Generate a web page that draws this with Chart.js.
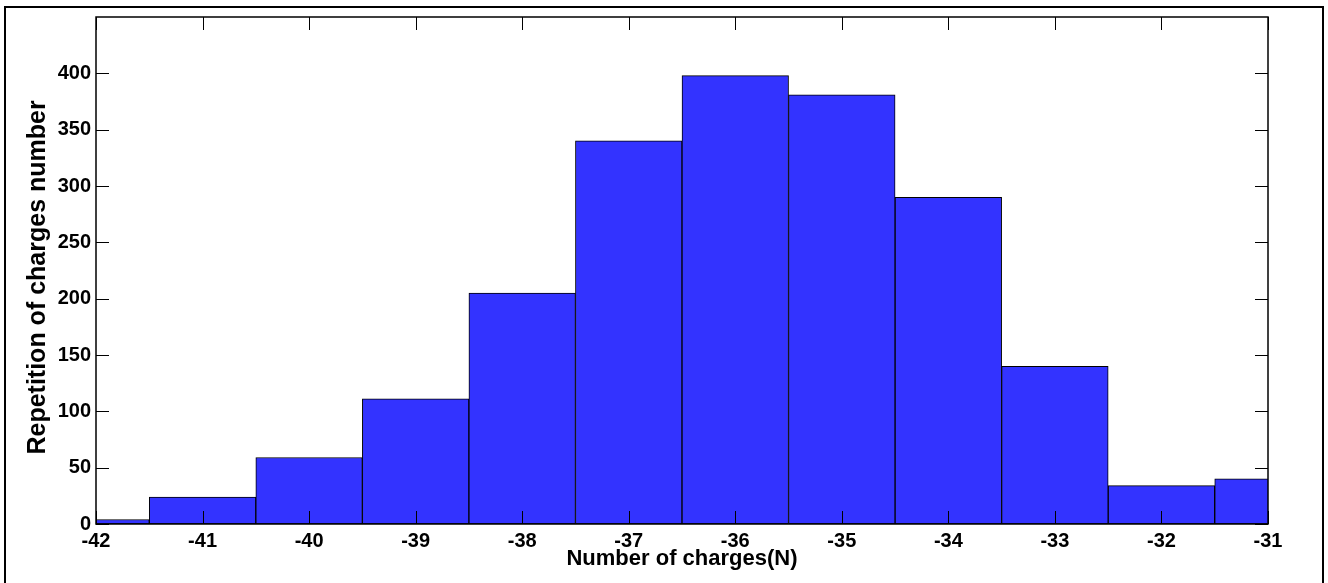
<!DOCTYPE html>
<html>
<head>
<meta charset="utf-8">
<script src="https://cdn.jsdelivr.net/npm/chart.js@4/dist/chart.umd.min.js"></script>
<style>
  html, body { margin: 0; padding: 0; background: #fff; }
  canvas { display: block; }
</style>
</head>
<body>
<canvas id="histChart" width="1328" height="583"></canvas>
<script>
// bin centres (N) and how many times each charge number came up
var binCenters = [-42, -41, -40, -39, -38, -37, -36, -35, -34, -33, -32, -31];
var counts = [4, 24, 59, 111, 205, 340, 398, 381, 290, 140, 34, 40];
var yTicks = [0, 50, 100, 150, 200, 250, 300, 350, 400];

var fontFamily = "'Liberation Sans', Arial, Helvetica, sans-serif";

// figure frame, axes box and inward tick marks, matlab style
var boxPlugin = {
    id: 'boxPlugin',
    beforeDraw: function(chart) {
        var ctx = chart.ctx;
        ctx.save();
        ctx.strokeStyle = '#000';
        ctx.lineWidth = 2;
        ctx.strokeRect(5, 7, 1318, 590);
        ctx.restore();
    },
    afterDatasetsDraw: function(chart) {
        var ctx = chart.ctx;
        var area = chart.chartArea;
        var xs = chart.scales.x;
        var ys = chart.scales.y;
        var len = 13;
        ctx.save();
        ctx.strokeStyle = '#000';
        ctx.lineWidth = 1;
        ctx.beginPath();
        binCenters.forEach(function(v) {
            var px = Math.round(xs.getPixelForValue(v)) + 0.5;
            ctx.moveTo(px, area.top);
            ctx.lineTo(px, area.top + len);
            ctx.moveTo(px, area.bottom);
            ctx.lineTo(px, area.bottom - len);
        });
        yTicks.forEach(function(v) {
            var py = Math.round(ys.getPixelForValue(v)) + 0.5;
            ctx.moveTo(area.left, py);
            ctx.lineTo(area.left + len, py);
            ctx.moveTo(area.right, py);
            ctx.lineTo(area.right - len, py);
        });
        ctx.stroke();
        ctx.lineWidth = 1.5;
        ctx.strokeRect(area.left, area.top, area.right - area.left, area.bottom - area.top);
        ctx.restore();
    }
};

var ctx = document.getElementById('histChart').getContext('2d');
var histChart = new Chart(ctx, {
    type: 'bar',
    data: {
        datasets: [{
            data: binCenters.map(function(x, i) { return { x: x, y: counts[i] }; }),
            backgroundColor: '#3333ff',
            borderColor: '#000',
            borderWidth: 1,
            borderSkipped: false,
            barPercentage: 1,
            categoryPercentage: 1,
            clip: 0
        }]
    },
    options: {
        responsive: false,
        animation: false,
        layout: { padding: { left: 0, top: 15, right: 60, bottom: 0 } },
        plugins: {
            legend: { display: false },
            tooltip: { enabled: false }
        },
        scales: {
            x: {
                type: 'linear',
                min: -42,
                max: -31,
                offset: false,
                grid: { display: false, drawTicks: false },
                border: { display: false },
                ticks: {
                    stepSize: 1,
                    padding: 5,
                    maxRotation: 0,
                    color: '#000',
                    font: { family: fontFamily, size: 20, weight: 'bold' }
                },
                title: {
                    display: true,
                    text: 'Number of charges(N)',
                    color: '#000',
                    padding: { top: 0, bottom: 11 },
                    font: { family: fontFamily, size: 22, weight: 'bold' }
                },
                afterFit: function(scale) { scale.height = 59; }
            },
            y: {
                min: 0,
                max: 450,
                grid: { display: false, drawTicks: false },
                border: { display: false },
                ticks: {
                    stepSize: 50,
                    padding: 5,
                    color: '#000',
                    font: { family: fontFamily, size: 20, weight: 'bold' },
                    callback: function(v) { return v > 400 ? '' : v; }
                },
                title: {
                    display: true,
                    text: 'Repetition of charges number  ',
                    color: '#000',
                    padding: { top: 23, bottom: 0 },
                    font: { family: fontFamily, size: 25, weight: 'bold' }
                },
                afterFit: function(scale) { scale.width = 96; }
            }
        }
    },
    plugins: [boxPlugin]
});
</script>
</body>
</html>
